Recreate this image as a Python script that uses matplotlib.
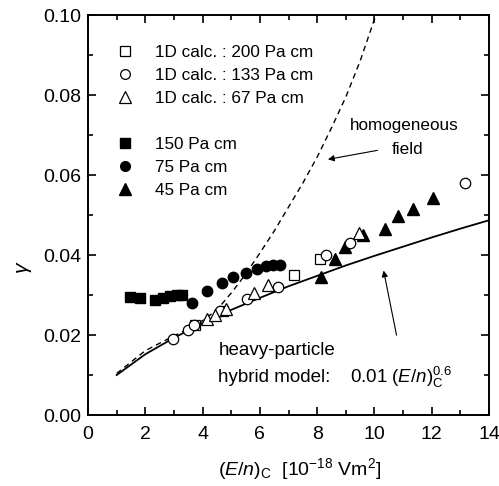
import matplotlib
matplotlib.use("Agg")
import matplotlib.pyplot as plt
from matplotlib.lines import Line2D
from matplotlib.ticker import MultipleLocator, FormatStrFormatter

plt.rcParams['font.family'] = ['Liberation Sans', 'DejaVu Sans']
plt.rcParams['mathtext.fontset'] = 'custom'
plt.rcParams['mathtext.rm'] = 'Liberation Sans'
plt.rcParams['mathtext.it'] = 'Liberation Sans:italic'

# 1D calculation results (open symbols)
sq200_x = [3.75, 4.7, 7.2, 8.1]
sq200_y = [0.0225, 0.026, 0.035, 0.039]
ci133_x = [2.95, 3.5, 3.7, 4.6, 5.55, 6.65, 8.3, 9.15, 13.15]
ci133_y = [0.019, 0.0213, 0.0225, 0.026, 0.029, 0.032, 0.040, 0.043, 0.058]
tr67_x = [4.15, 4.45, 4.8, 5.8, 6.3, 9.45]
tr67_y = [0.024, 0.025, 0.0265, 0.0305, 0.0325, 0.0455]

# measured values (filled symbols)
sq150_x = [1.47, 1.82, 2.34, 2.62, 2.86, 3.11, 3.28]
sq150_y = [0.0295, 0.0292, 0.0287, 0.0293, 0.0298, 0.0301, 0.0301]
ci75_x = [3.63, 4.15, 4.68, 5.06, 5.5, 5.9, 6.2, 6.45, 6.7]
ci75_y = [0.028, 0.031, 0.033, 0.0345, 0.0356, 0.0366, 0.0373, 0.0375, 0.0376]
tr45_x = [8.14, 8.62, 8.97, 9.6, 10.37, 10.82, 11.35, 12.05]
tr45_y = [0.0345, 0.039, 0.042, 0.045, 0.0465, 0.0498, 0.0515, 0.0543]

# heavy-particle hybrid model curve
model_x = [1, 2, 3, 4, 5, 6, 7, 8, 9, 10, 11, 12, 13, 14]
model_y = [0.0100, 0.0152, 0.0193, 0.0230, 0.0263, 0.0293, 0.0322,
           0.0348, 0.0374, 0.0398, 0.0421, 0.0444, 0.0466, 0.0487]

# homogeneous field curve
homo_x = [1, 2, 3, 3.5, 4, 4.5, 5, 5.5, 6, 6.5, 7, 7.5, 8, 8.5, 9, 9.5, 10.05]
homo_y = [0.0104, 0.0161, 0.0198, 0.0215, 0.0236, 0.0263, 0.0305, 0.0352,
          0.0405, 0.046, 0.052, 0.058, 0.0645, 0.0718, 0.0795, 0.0885, 0.1]

fig = plt.figure(figsize=(4.99, 4.86), dpi=100)
ax = fig.add_axes([0.1764, 0.146, 0.8036, 0.823])

ax.plot(model_x, model_y, color='black', lw=1.3, zorder=2)
ax.plot(homo_x, homo_y, color='black', lw=1.0, ls=(0, (4, 3)), zorder=2)

ms = 7.5
ax.plot(sq150_x, sq150_y, 's', color='black', ms=ms, ls='none')
ax.plot(ci75_x, ci75_y, 'o', color='black', ms=ms, ls='none')
ax.plot(tr45_x, tr45_y, '^', color='black', ms=ms + 1, ls='none')
open_kw = dict(mfc='white', mec='black', mew=0.9, ls='none')
ax.plot(sq200_x, sq200_y, 's', ms=ms, **open_kw)
ax.plot(ci133_x, ci133_y, 'o', ms=ms, **open_kw)
ax.plot(tr67_x, tr67_y, '^', ms=ms + 1, **open_kw)

handles = [
    Line2D([], [], marker='s', ms=7, **open_kw),
    Line2D([], [], marker='o', ms=7, **open_kw),
    Line2D([], [], marker='^', ms=8, **open_kw),
    Line2D([], [], ls='none'),
    Line2D([], [], marker='s', color='black', ms=7, ls='none'),
    Line2D([], [], marker='o', color='black', ms=7, ls='none'),
    Line2D([], [], marker='^', color='black', ms=8, ls='none'),
]
labels = ['1D calc. : 200 Pa cm', '1D calc. : 133 Pa cm', '1D calc. : 67 Pa cm', '',
          '150 Pa cm', '75 Pa cm', '45 Pa cm']
ax.legend(handles, labels, loc='upper left', bbox_to_anchor=(0.067, 0.926),
          frameon=False, fontsize=12.3, handlelength=1.2, handletextpad=1.15,
          labelspacing=0.47, borderpad=0, borderaxespad=0)

ax.text(11.05, 0.0725, 'homogeneous', ha='center', va='center', fontsize=12.3)
ax.text(11.15, 0.0663, 'field', ha='center', va='center', fontsize=12.3)
ax.annotate('', xy=(8.28, 0.0638), xytext=(10.2, 0.0663),
            arrowprops=dict(arrowstyle='-|>', color='black', lw=0.8,
                            mutation_scale=9))

ax.text(4.55, 0.01625, 'heavy-particle', ha='left', va='center', fontsize=13.5)
ax.text(4.55, 0.0095, 'hybrid model:', ha='left', va='center', fontsize=13.5)
ax.text(9.15, 0.0095, r'0.01 $(\mathit{E/n})_\mathrm{C}^{0.6}$', ha='left',
        va='center', fontsize=13.5)
ax.annotate('', xy=(10.3, 0.0368), xytext=(10.79, 0.0193),
            arrowprops=dict(arrowstyle='-|>', color='black', lw=0.8,
                            mutation_scale=9))

ax.set_xlim(0, 14)
ax.set_ylim(0, 0.10)
ax.xaxis.set_major_locator(MultipleLocator(2))
ax.xaxis.set_minor_locator(MultipleLocator(1))
ax.yaxis.set_major_locator(MultipleLocator(0.02))
ax.yaxis.set_minor_locator(MultipleLocator(0.01))
ax.yaxis.set_major_formatter(FormatStrFormatter('%.2f'))
ax.tick_params(which='both', direction='in', top=True, right=True,
               labelsize=14, width=1.2)
ax.tick_params(which='major', length=6, pad=5)
ax.tick_params(axis='x', which='major', pad=8)
ax.tick_params(which='minor', length=3.5)
for s in ax.spines.values():
    s.set_linewidth(1.4)

ax.set_xlabel(r'$(\mathit{E/n})_\mathrm{C}$  [10$^{-18}$ Vm$^2$]', fontsize=14)
ax.xaxis.set_label_coords(0.529, -0.1025)
ax.set_ylabel(r'$\gamma$', fontsize=15)
ax.yaxis.set_label_coords(-0.135, 0.37)

fig.savefig('out.png', dpi=100)
